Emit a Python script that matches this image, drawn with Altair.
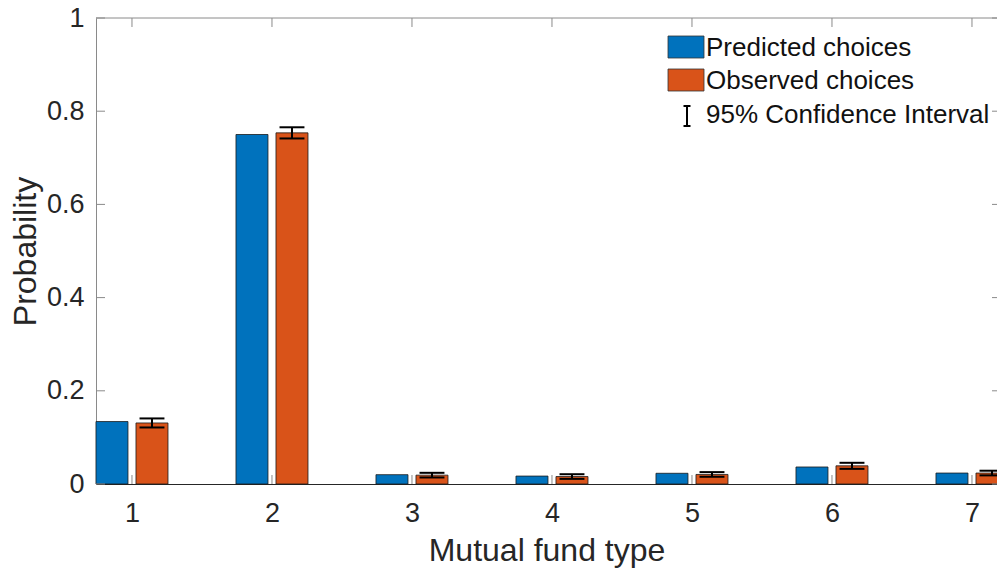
import altair as alt
import pandas as pd

# ---- data ----
groups = [1, 2, 3, 4, 5, 6, 7]
predicted = [0.134, 0.750, 0.020, 0.017, 0.023, 0.0365, 0.0235]
observed = [0.131, 0.7535, 0.019, 0.016, 0.0205, 0.039, 0.0235]
ci_half = [0.0097, 0.012, 0.005, 0.005, 0.005, 0.0065, 0.005]
y_ticks = [0, 0.2, 0.4, 0.6, 0.8, 1]
series_names = ["Predicted choices", "Observed choices"]
ci_label = "95% Confidence Interval"
x_title = "Mutual fund type"
y_title = "Probability"

# ---- layout / style ----
W, H = 901, 466
X_DOMAIN = [0.743, 0.743 + 901 / 140]
BAR_W = 0.2286
OFFSET = 0.1429
CAP_HALF = 0.089
BLUE = "#0072BD"
ORANGE = "#D95319"
INK = "#262626"
GREY = "#8a8a8a"
FONT = "Liberation Sans"

xs = alt.Scale(domain=X_DOMAIN, nice=False, zero=False)
ys = alt.Scale(domain=[0, 1], nice=False, zero=False)

bars = pd.DataFrame({
    "group": groups * 2,
    "value": predicted + observed,
    "series": [series_names[0]] * len(groups) + [series_names[1]] * len(groups),
    "side": [-1] * len(groups) + [1] * len(groups),
})
err = pd.DataFrame({"group": groups, "mid": observed, "half": ci_half})
xt = pd.DataFrame({"group": groups})
yt = pd.DataFrame({"v": y_ticks})

x_axis = alt.Axis(
    values=groups, format="d", labelFont=FONT, labelFontSize=27, labelColor=INK,
    labelPadding=37, labelBaseline="alphabetic", ticks=False, tickSize=0,
    domain=True, domainColor=INK, domainWidth=1.2, grid=False,
    title=x_title, titleFont=FONT, titleFontSize=32, titleFontWeight="normal",
    titleColor=INK, titleY=76, titleBaseline="alphabetic",
)
y_axis = alt.Axis(
    values=y_ticks, format="~g", labelFont=FONT, labelFontSize=27, labelColor=INK,
    labelPadding=12, ticks=False, tickSize=0, domain=True, domainColor=GREY,
    domainWidth=1, grid=False,
    title=y_title, titleFont=FONT, titleFontSize=32, titleFontWeight="normal",
    titleColor=INK, titleX=-61, titleBaseline="alphabetic", titleAngle=-90,
)

bar_layer = alt.Chart(bars).transform_calculate(
    x0=f"datum.group + datum.side*{OFFSET} - {BAR_W / 2}",
    x1=f"datum.group + datum.side*{OFFSET} + {BAR_W / 2}",
).mark_rect(stroke="#1a1a1a", strokeWidth=0.8).encode(
    x=alt.X("x0:Q", scale=xs, axis=x_axis),
    x2="x1:Q",
    y=alt.Y("value:Q", scale=ys, axis=y_axis),
    y2=alt.datum(0),
    color=alt.Color("series:N", scale=alt.Scale(domain=series_names, range=[BLUE, ORANGE]), legend=None),
)

err_base = alt.Chart(err).transform_calculate(
    xc=f"datum.group + {OFFSET}",
    xa=f"datum.group + {OFFSET} - {CAP_HALF}",
    xb=f"datum.group + {OFFSET} + {CAP_HALF}",
    lo="datum.mid - datum.half",
    hi="datum.mid + datum.half",
)
err_v = err_base.mark_rule(color="black", strokeWidth=2).encode(
    x=alt.X("xc:Q", scale=xs, axis=x_axis),
    y=alt.Y("lo:Q", scale=ys, axis=y_axis),
    y2="hi:Q",
)
cap_lo = err_base.mark_rule(color="black", strokeWidth=2).encode(
    x=alt.X("xa:Q", scale=xs, axis=x_axis), x2="xb:Q",
    y=alt.Y("lo:Q", scale=ys, axis=y_axis),
)
cap_hi = err_base.mark_rule(color="black", strokeWidth=2).encode(
    x=alt.X("xa:Q", scale=xs, axis=x_axis), x2="xb:Q",
    y=alt.Y("hi:Q", scale=ys, axis=y_axis),
)

# inward ticks (MATLAB style box)
tick_bottom = alt.Chart(xt).mark_rule(color=GREY, strokeWidth=1).encode(
    x=alt.X("group:Q", scale=xs, axis=x_axis), y=alt.value(H), y2=alt.value(H - 9))
tick_top = alt.Chart(xt).mark_rule(color=GREY, strokeWidth=1).encode(
    x=alt.X("group:Q", scale=xs, axis=x_axis), y=alt.value(0), y2=alt.value(9))
tick_left = alt.Chart(yt).mark_rule(color=GREY, strokeWidth=1).encode(
    y=alt.Y("v:Q", scale=ys, axis=y_axis), x=alt.value(0), x2=alt.value(9))
tick_right = alt.Chart(yt).mark_rule(color=GREY, strokeWidth=1).encode(
    y=alt.Y("v:Q", scale=ys, axis=y_axis), x=alt.value(W - 5), x2=alt.value(W))
top_line = alt.Chart(pd.DataFrame({"k": [0]})).mark_rule(color=GREY, strokeWidth=1).encode(
    x=alt.value(0), x2=alt.value(W), y=alt.value(0))

# legend
def leg_rect(color, y0, y1, label):
    return alt.Chart(pd.DataFrame({"label": [label]})).mark_rect(
        color=color, stroke="#333333", strokeWidth=0.8).encode(
        x=alt.value(572), x2=alt.value(608), y=alt.value(y0), y2=alt.value(y1))

def leg_text(y, label):
    return alt.Chart(pd.DataFrame({"label": [label]})).mark_text(
        align="left", baseline="alphabetic", font=FONT, fontSize=26, color="#111111").encode(
        x=alt.value(610), y=alt.value(y), text="label:N")

one = pd.DataFrame({"label": [ci_label]})
leg_err_v = alt.Chart(one).mark_rule(color="black", strokeWidth=2).encode(
    x=alt.value(591), y=alt.value(88), y2=alt.value(108))
leg_err_a = alt.Chart(one).mark_rule(color="black", strokeWidth=2).encode(
    x=alt.value(587.5), x2=alt.value(594.5), y=alt.value(88))
leg_err_b = alt.Chart(one).mark_rule(color="black", strokeWidth=2).encode(
    x=alt.value(587.5), x2=alt.value(594.5), y=alt.value(108))

chart = alt.layer(
    bar_layer, tick_bottom, tick_top, tick_left, tick_right, top_line,
    err_v, cap_lo, cap_hi,
    leg_rect(BLUE, 18, 40, series_names[0]),
    leg_rect(ORANGE, 51, 73, series_names[1]),
    leg_text(38, series_names[0]),
    leg_text(71, series_names[1]),
    leg_text(105, ci_label),
    leg_err_v, leg_err_a, leg_err_b,
).properties(
    width=W, height=H,
    padding={"left": 88, "top": 10, "right": 0, "bottom": 85},
    autosize=alt.AutoSizeParams(type="none"),
    background="white",
).configure_view(stroke=None)

chart.save("out.html", embed_options={"renderer": "svg", "actions": False})
